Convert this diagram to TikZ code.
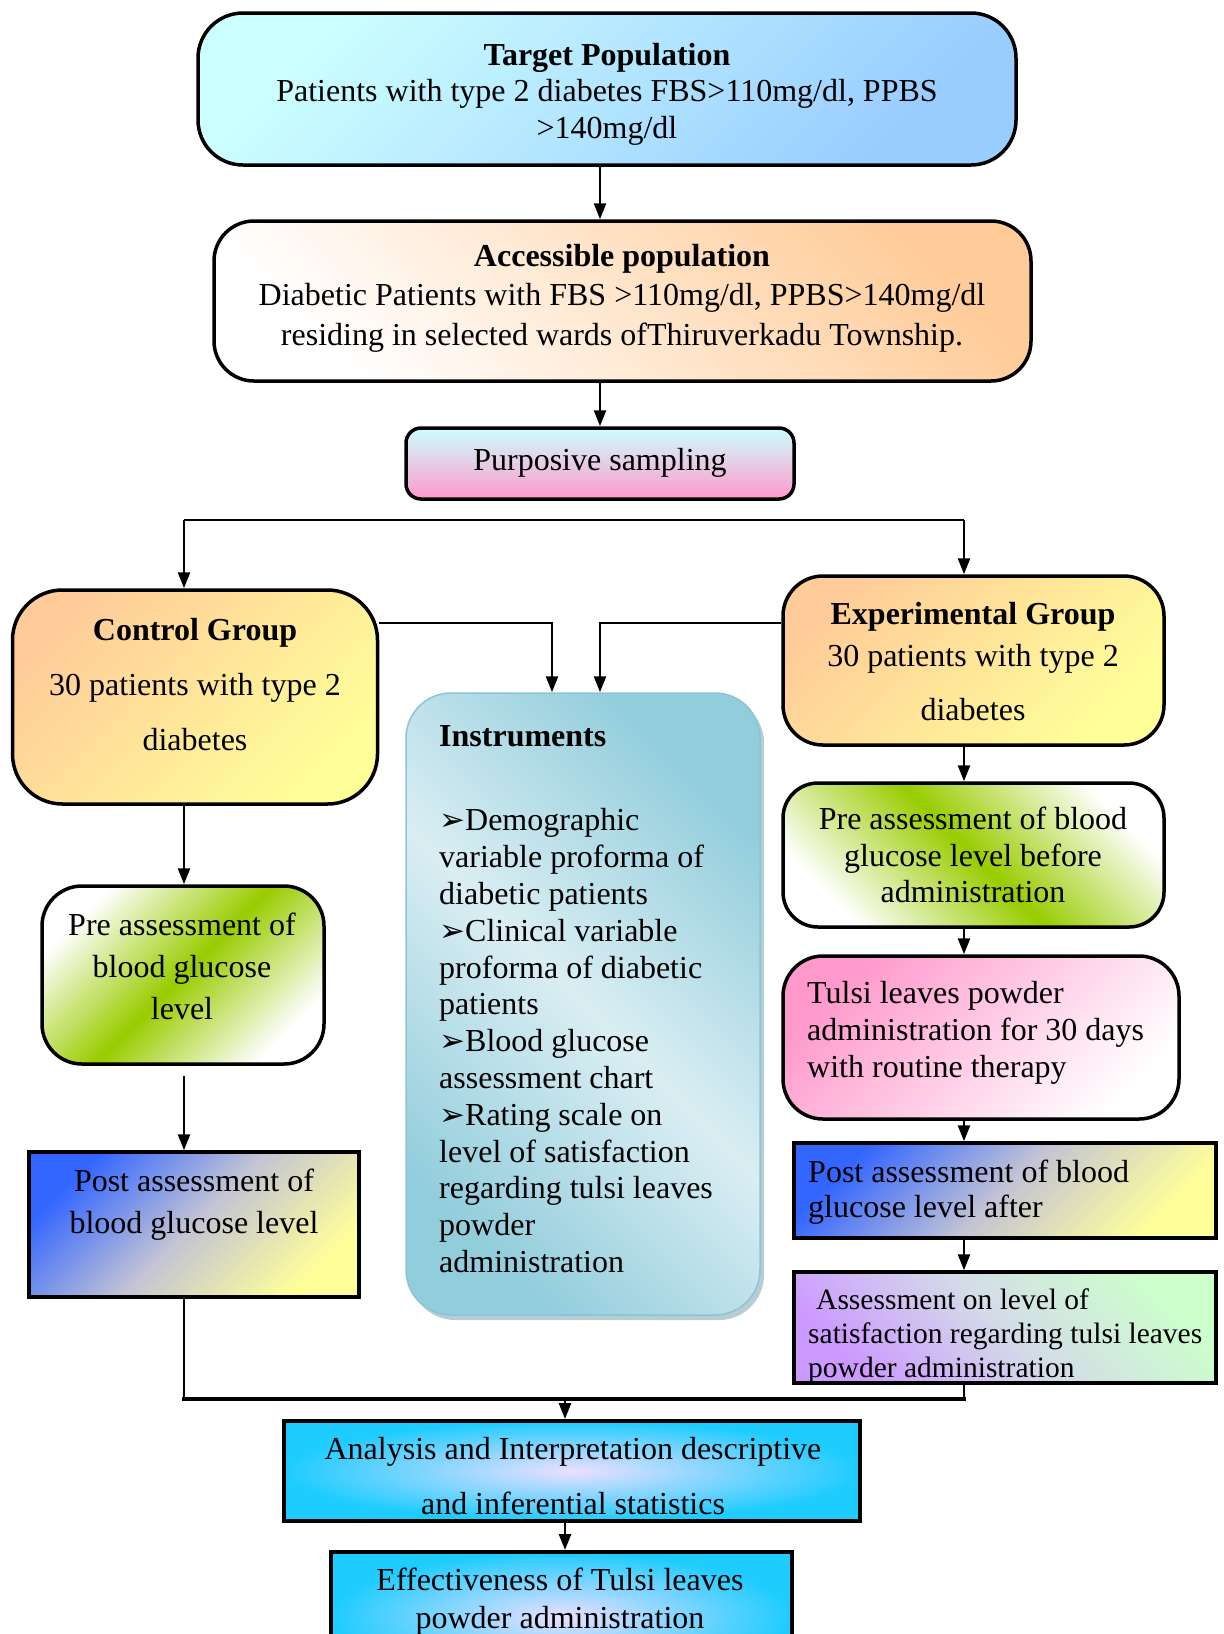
\documentclass[tikz,border=0pt]{standalone}
\usepackage{fontspec}
\setmainfont{Liberation Serif}
\newfontfamily\dejavu{DejaVu Sans}
\usetikzlibrary{arrows.meta,shadows,calc}
\definecolor{cyanL}{HTML}{CCFFFF}
\definecolor{blueL}{HTML}{99CCFF}
\definecolor{orangeL}{HTML}{FFCC99}
\definecolor{yellowL}{HTML}{FFFF99}
\definecolor{pinkL}{HTML}{FF99CC}
\definecolor{greenM}{HTML}{99CC00}
\definecolor{blueS}{HTML}{3366FF}
\definecolor{greyM}{HTML}{C4C4D4}
\definecolor{lilac}{HTML}{CC99FF}
\definecolor{mintL}{HTML}{CCFFCC}
\definecolor{greyL}{HTML}{D4DCE8}
\definecolor{cyanS}{HTML}{1ECCFF}
\definecolor{lavL}{HTML}{ECDFFF}
\definecolor{tealD}{HTML}{92CDDC}
\definecolor{tealL}{HTML}{DAEEF3}
\definecolor{tealB}{HTML}{8CC4D6}
\newcommand{\bul}{{\dejavu\bfseries\fontsize{31}{36.8}\selectfont ➢}}
\begin{document}
\begin{tikzpicture}[x=1pt,y=-1pt,
  box/.style={draw=black, line width=3.5pt, inner sep=0pt},
  txt/.style={inner sep=0pt, align=center},
  conn/.style={line width=2.5pt},
  arr/.style={conn, -{Triangle[length=16pt,width=12pt]}},
]
\useasboundingbox (0,0) rectangle (1224,1634);
\clip (0,0) rectangle (1224,1634);
\fill[white] (0,0) rectangle (1224,1634);

% boxes
\node[box, rounded corners=45pt, minimum width=818pt, minimum height=152pt,
  top color=cyanL, bottom color=blueL, shading angle=45] (target) at (607,89) {};
\node[box, rounded corners=40pt, minimum width=817pt, minimum height=160pt,
  top color=orangeL, bottom color=white, shading angle=-45] (accessible) at (622.5,301) {};
\node[box, rounded corners=15pt, minimum width=388pt, minimum height=71pt,
  top color=cyanL, bottom color=pinkL] (purposive) at (600,463.5) {};
\node[box, rounded corners=50pt, minimum width=365pt, minimum height=214pt,
  top color=orangeL, bottom color=yellowL, shading angle=45] (control) at (195,697) {};
\node[box, rounded corners=40pt, minimum width=381pt, minimum height=169pt,
  top color=orangeL, bottom color=yellowL, shading angle=45] (exp) at (973.5,660.5) {};
\node[draw=tealB, line width=1.5pt, inner sep=0pt, rounded corners=45pt,
  minimum width=354pt, minimum height=622pt,
  drop shadow={shadow xshift=4pt, shadow yshift=-5pt, fill=tealB!80!black, opacity=0.5},
  top color=tealD, bottom color=tealD, middle color=tealL, shading angle=-45] (instr) at (583,1004) {};
\node[box, rounded corners=40pt, minimum width=282pt, minimum height=178pt,
  top color=white, bottom color=white, middle color=greenM, shading angle=45] (preL) at (183,975) {};
\node[box, minimum width=330pt, minimum height=145pt,
  top color=blueS, bottom color=yellowL, middle color=greyM, shading angle=45] (postL) at (194,1224.5) {};
\node[box, rounded corners=35pt, minimum width=381pt, minimum height=144pt,
  top color=white, bottom color=white, middle color=greenM, shading angle=-45] (preR) at (973.5,855) {};
\node[box, rounded corners=40pt, minimum width=396pt, minimum height=163pt,
  top color=pinkL, bottom color=white, shading angle=45] (tulsi) at (981,1037.5) {};
\node[box, minimum width=422pt, minimum height=95pt,
  top color=blueS, bottom color=yellowL, middle color=greyM, shading angle=45] (postR) at (1005,1190.5) {};
\node[box, minimum width=422pt, minimum height=111pt,
  top color=mintL, bottom color=lilac, middle color=greyL, shading angle=-45] (assess) at (1005,1327.5) {};
\node[box, line width=4pt, minimum width=576pt, minimum height=100pt,
  inner color=lavL, outer color=cyanS] (analysis) at (572,1471) {};
\node[box, line width=4pt, minimum width=461pt, minimum height=130pt,
  inner color=lavL, outer color=cyanS] (effect) at (561.5,1617) {};

% texts
\node[txt, font=\fontsize{32}{36.5}\selectfont] (ttarget) at (607,94)
  {\textbf{Target Population}\\Patients with type 2 diabetes FBS>110mg/dl, PPBS\\>140mg/dl};
\node[txt, font=\fontsize{32}{39.5}\selectfont] (taccess) at (622,298)
  {\textbf{Accessible population}\\Diabetic Patients with FBS >110mg/dl, PPBS>140mg/dl\\residing in selected wards ofThiruverkadu Township.};
\node[txt, font=\fontsize{32}{36.8}\selectfont] (tpurp) at (600,463) {Purposive sampling};
\node[txt, font=\fontsize{32}{55}\selectfont] (tcontrol) at (195,685)
  {\textbf{Control Group}\\30 patients with type 2\\diabetes};
\node[txt, font=\fontsize{32}{42}\selectfont] (texp) at (973,662)
  {\textbf{Experimental Group}\\30 patients with type 2\\[12pt]diabetes};
\node[txt, align=left, anchor=west, font=\fontsize{32}{36.8}\selectfont] (tinstr) at (439,999)
  {\textbf{Instruments}\\[48pt]%
   \bul Demographic\\variable proforma of\\diabetic patients\\%
   \bul Clinical variable\\proforma of diabetic\\patients\\%
   \bul Blood glucose\\assessment chart\\%
   \bul Rating scale on\\level of satisfaction\\regarding tulsi leaves\\powder\\administration};
\node[txt, font=\fontsize{32}{42}\selectfont] (tpreL) at (182,966)
  {Pre assessment of\\blood glucose\\level};
\node[txt, font=\fontsize{32}{42}\selectfont] (tpostL) at (194,1205)
  {Post assessment of\\blood glucose level};
\node[txt, font=\fontsize{32}{36.5}\selectfont] (tpreR) at (973,855)
  {Pre assessment of blood\\glucose level before\\administration};
\node[txt, align=left, anchor=west, font=\fontsize{32}{37}\selectfont] (ttulsi) at (807,1033)
  {Tulsi leaves powder\\administration for 30 days\\with routine therapy};
\node[txt, align=left, anchor=west, font=\fontsize{32}{35}\selectfont] (tpostR) at (808,1192.5)
  {Post assessment of blood\\glucose level after};
\begin{scope}
\clip (assess.north west) rectangle (assess.south east);
\node[txt, align=left, anchor=west, font=\fontsize{29.5}{34}\selectfont] (tassess) at (808,1336)
  {\hspace*{8pt}Assessment on level of\\satisfaction regarding tulsi leaves\\powder administration};
\end{scope}
\node[txt, font=\fontsize{32}{55}\selectfont] (tanalysis) at (573,1476)
  {Analysis and Interpretation descriptive\\and inferential statistics};
\node[txt, font=\fontsize{32}{38}\selectfont] (teffect) at (560,1602)
  {Effectiveness of Tulsi leaves\\powder administration};

% connectors
\coordinate (colM) at (600,0);
\coordinate (colL) at (184,0);
\coordinate (colR) at (964,0);
\coordinate (colA) at (565,0);
\coordinate (splitL) at (184,520);
\coordinate (splitR) at (964,520);
\coordinate (instY) at (0,623);
\coordinate (mergeY) at (0,1399);
\coordinate (preLgap) at ([yshift=-10pt]preL.south);

\draw[arr] (target.south -| colM) -- (accessible.north -| colM);
\draw[arr] (accessible.south -| colM) -- (purposive.north -| colM);
\draw[conn] (splitL) -- (splitR);
\draw[arr] (splitL) -- (control.north -| splitL);
\draw[arr] (splitR) -- (exp.north -| splitR);
\draw[arr] (control.east |- instY) -| ([xshift=-31pt]instr.north);
\draw[arr] (exp.west |- instY) -| ([xshift=17pt]instr.north);
\draw[arr] (control.south -| colL) -- (preL.north -| colL);
\draw[arr] (preLgap -| colL) -- (postL.north -| colL);
\draw[arr] (exp.south -| colR) -- (preR.north -| colR);
\draw[arr] (preR.south -| colR) -- (tulsi.north -| colR);
\draw[arr] (tulsi.south -| colR) -- (postR.north -| colR);
\draw[arr] (postR.south -| colR) -- (assess.north -| colR);
\draw[line width=2pt] (postL.south -| colL) -- (colL |- mergeY);
\draw[line width=2pt] (assess.south -| colR) -- (colR |- mergeY);
\draw[line width=4pt, line cap=rect] (colL |- mergeY) -- (colR |- mergeY);
\draw[arr] (colA |- mergeY) -- (analysis.north -| colA);
\draw[arr] (analysis.south -| colA) -- (effect.north -| colA);
\end{tikzpicture}
\end{document}
